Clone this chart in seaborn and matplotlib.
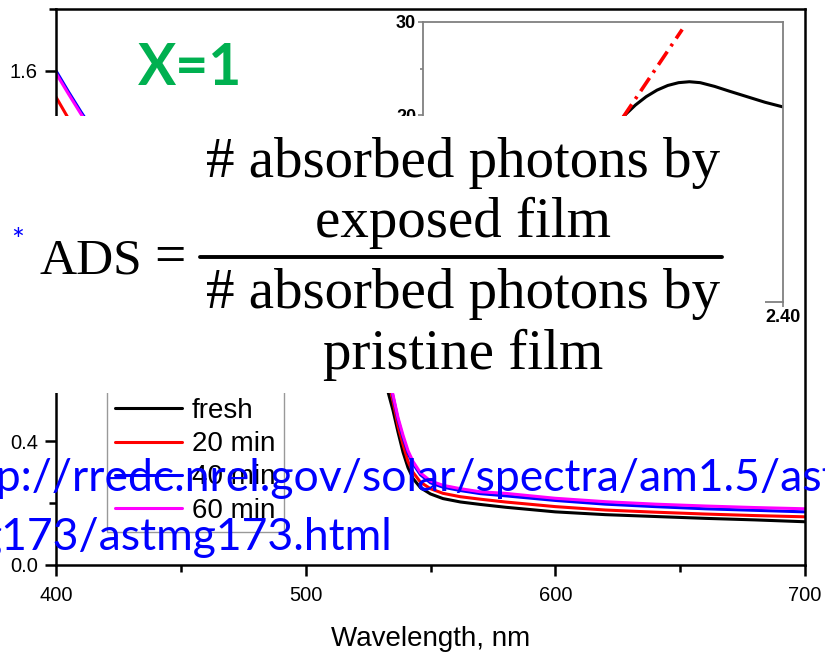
import numpy as np
import pandas as pd
import seaborn as sns
import matplotlib.pyplot as plt
from matplotlib.patches import Rectangle
from matplotlib.lines import Line2D
from matplotlib.ticker import MultipleLocator, FormatStrFormatter

sns.set_theme(style="ticks")
plt.rcParams['font.family'] = ['Liberation Sans', 'DejaVu Sans']
plt.rcParams['text.color'] = 'black'
plt.rcParams['axes.labelcolor'] = 'black'

# absorbance spectra
wavelength = [400, 405, 410, 420, 440, 460, 480, 500, 515, 525, 530, 533, 535, 537,
              539, 541, 543, 546, 550, 555, 562, 570, 580, 600, 620, 640, 660, 680, 700]
abs_fresh = [1.44, 1.38, 1.32, 1.22, 1.07, 0.97, 0.91, 0.87, 0.85, 0.80, 0.70, 0.56, 0.50, 0.43,
             0.365, 0.315, 0.28, 0.25, 0.23, 0.215, 0.204, 0.196, 0.187, 0.172, 0.163, 0.157, 0.151, 0.146, 0.140]
abs_20 = [1.515, 1.445, 1.38, 1.27, 1.11, 1.00, 0.94, 0.90, 0.88, 0.83, 0.74, 0.60, 0.53, 0.45,
          0.39, 0.335, 0.30, 0.268, 0.247, 0.232, 0.221, 0.213, 0.204, 0.189, 0.178, 0.171, 0.165, 0.160, 0.156]
abs_40 = [1.60, 1.532, 1.467, 1.345, 1.175, 1.055, 0.985, 0.945, 0.925, 0.875, 0.78, 0.615, 0.545, 0.47,
          0.412, 0.362, 0.328, 0.292, 0.266, 0.252, 0.241, 0.231, 0.224, 0.209, 0.197, 0.189, 0.182, 0.177, 0.172]
abs_60 = [1.592, 1.525, 1.46, 1.34, 1.17, 1.05, 0.98, 0.94, 0.92, 0.87, 0.78, 0.62, 0.55, 0.477,
          0.42, 0.37, 0.335, 0.298, 0.272, 0.258, 0.247, 0.237, 0.232, 0.216, 0.205, 0.197, 0.191, 0.186, 0.182]
labels = ['fresh', '20 min', '40 min', '60 min']
colors = ['black', '#ff0000', '#0000ff', '#ff00ff']

# inset (Tauc-like plot)
inset_x = [2.20, 2.24, 2.27, 2.29, 2.30, 2.312, 2.318, 2.324, 2.330, 2.336, 2.342, 2.348,
           2.354, 2.362, 2.370, 2.380, 2.390, 2.400]
inset_y = [1.5, 4.0, 10.0, 14.5, 17.0, 20.0, 21.1, 22.0, 22.7, 23.2, 23.5, 23.6,
           23.5, 23.1, 22.6, 22.0, 21.4, 20.9]
fit_x = [2.242, 2.344]
fit_y = [0.0, 29.2]

W, H = 825, 653
fig = plt.figure(figsize=(W / 100, H / 100), dpi=100)

ax = fig.add_axes([56 / W, 1 - 565 / H, (805 - 56) / W, (565 - 9) / H])
for vals, lab, c in zip([abs_fresh, abs_20, abs_40, abs_60], labels, colors):
    sns.lineplot(x=wavelength, y=vals, color=c, linewidth=2.2, label=lab, ax=ax)

ax.set_xlim(400, 700)
ax.set_ylim(0, 1.80)
ax.xaxis.set_major_locator(MultipleLocator(100))
ax.xaxis.set_minor_locator(MultipleLocator(50))
ax.yaxis.set_major_locator(MultipleLocator(0.4))
ax.yaxis.set_minor_locator(MultipleLocator(0.2))
ax.yaxis.set_major_formatter(FormatStrFormatter('%.1f'))
for s in ax.spines.values():
    s.set_color('black')
    s.set_linewidth(1.8)
ax.tick_params(which='major', direction='out', length=8, width=1.8, labelsize=14.5, pad=5, colors='black')
ax.tick_params(which='minor', direction='out', length=5, width=1.8, colors='black')
ax.tick_params(axis='x', which='major', pad=7)
ax.set_xlabel("Wavelength, nm", fontsize=20, labelpad=15)
ax.set_ylabel("")

leg = ax.legend(loc='lower left', bbox_to_anchor=(107 / W, 1 - 532 / H), bbox_transform=fig.transFigure,
                fontsize=20, frameon=True, fancybox=False, framealpha=1, edgecolor='#999999',
                borderpad=0.3, labelspacing=0.26, handlelength=2.4, handletextpad=0.35, borderaxespad=0)
leg.get_frame().set_linewidth(1.0)

# inset
ins = fig.add_axes([423 / W, 1 - 302 / H, (783 - 423) / W, (302 - 22) / H])
ins.set_zorder(1)
sns.lineplot(x=inset_x, y=inset_y, color='black', linewidth=2.2, ax=ins)
ins.plot(fit_x, fit_y, color='#ff0000', linewidth=2.6, linestyle=(0, (4.4, 1.8, 0.8, 1.8)))
ins.set_xlim(2.20, 2.40)
ins.set_ylim(0, 30)
ins.xaxis.set_major_locator(MultipleLocator(0.05))
ins.xaxis.set_major_formatter(FormatStrFormatter('%.2f'))
ins.yaxis.set_major_locator(MultipleLocator(10))
ins.yaxis.set_minor_locator(MultipleLocator(5))
for s in ins.spines.values():
    s.set_color('#808080')
    s.set_linewidth(1.3)
ins.tick_params(which='both', direction='out', color='#808080', width=1.2, labelcolor='black')
ins.tick_params(which='major', length=3.5, pad=1.5, labelsize=13)
ins.tick_params(which='minor', length=2.5)
for t in ins.get_xticklabels() + ins.get_yticklabels():
    t.set_fontweight('bold')

# white box with the formula pasted over the chart
fig.add_artist(Rectangle((0, 1 - 393 / H), 765 / W, (393 - 116) / H, transform=fig.transFigure,
                         facecolor='white', edgecolor='none', zorder=5))
serif = ['Liberation Serif', 'DejaVu Serif']
fcx = 463 / W
for txt, base in [("# absorbed photons by", 177), ("exposed film", 237),
                  ("# absorbed photons by", 308), ("pristine film", 369)]:
    fig.text(fcx, 1 - base / H, txt, ha='center', va='baseline', fontsize=41, family=serif,
             color='black', zorder=6)
fig.add_artist(Line2D([200 / W, 722 / W], [1 - 257 / H, 1 - 257 / H], transform=fig.transFigure,
                      color='black', linewidth=2.8, zorder=6))
fig.text(40 / W, 1 - 273 / H, "ADS", ha='left', va='baseline', fontsize=37, family=serif,
         color='black', zorder=6)
fig.text(170 / W, 1 - 273 / H, "=", ha='center', va='baseline', fontsize=40, family=serif,
         color='black', zorder=6)
fig.text(18 / W, 1 - 250 / H, "*", ha='center', va='baseline', fontsize=22, color='#0000ff',
         family=['Lato', 'DejaVu Sans'], zorder=6)

fig.text(138 / W, 1 - 85 / H, "X=1", ha='left', va='baseline', fontsize=41, fontweight='bold',
         color='#00b050', family=['Lato', 'DejaVu Sans'], zorder=6)

url = ['Lato', 'DejaVu Sans']
fig.text(-60 / W, 1 - 491 / H, "http://rredc.nrel.gov/solar/spectra/am1.5/astmg173/", ha='left',
         va='baseline', fontsize=32, color='#0000ff', family=url, zorder=6)
fig.text(-21 / W, 1 - 550 / H, "g173/astmg173.html", ha='left', va='baseline', fontsize=32,
         color='#0000ff', family=url, zorder=6)

fig.savefig('out.png', dpi=100)
